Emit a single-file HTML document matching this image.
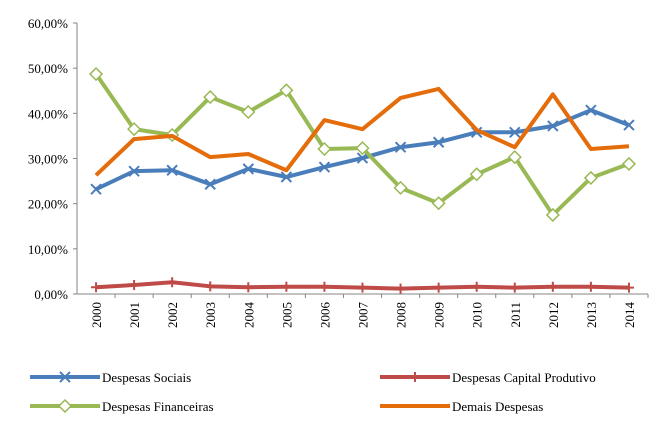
<!DOCTYPE html>
<html><head><meta charset="utf-8"><style>
body{margin:0;background:#fff}
svg text{font-family:"Liberation Serif",serif;font-size:13px;fill:#000}
</style></head><body>
<svg id="c" width="650" height="422"></svg>
<script>
const years=["2000","2001","2002","2003","2004","2005","2006","2007","2008","2009","2010","2011","2012","2013","2014"];
const sociais=[23.2,27.2,27.4,24.3,27.7,25.9,28.1,30.1,32.5,33.6,35.8,35.8,37.2,40.7,37.4];
const capital=[1.5,2.0,2.6,1.7,1.5,1.6,1.6,1.4,1.2,1.4,1.6,1.4,1.6,1.6,1.4];
const financeiras=[48.7,36.5,35.2,43.6,40.3,45.1,32.1,32.3,23.5,20.1,26.5,30.3,17.5,25.7,28.8];
const demais=[26.3,34.3,35.0,30.3,31.0,27.4,38.5,36.5,43.4,45.4,36.3,32.5,44.2,32.1,32.7];
const yTicks=[0,10,20,30,40,50,60];
const yTickLabels=["0,00%","10,00%","20,00%","30,00%","40,00%","50,00%","60,00%"];
const svg=document.getElementById('c');const NS="http://www.w3.org/2000/svg";
const x0=77,x1=648,yb=294,yt=23;
const step=(x1-x0)/years.length;
const X=i=>x0+step*(i+0.5);
const Y=v=>yb-(v/60)*(yb-yt);
function mk(t,a){const e=document.createElementNS(NS,t);for(const k in a)e.setAttribute(k,a[k]);svg.appendChild(e);return e;}
let e=mk('line',{x1:x0,y1:yt,x2:x0,y2:yb,stroke:'#868686'});


e=mk('line',{x1:x0,y1:yb,x2:x1,y2:yb,stroke:'#868686'});


yTicks.forEach((v,i)=>{mk('line',{x1:x0-4,y1:Y(v),x2:x0,y2:Y(v),stroke:'#868686'});
 const t=mk('text',{x:68,y:Y(v)+5,'text-anchor':'end'});t.textContent=yTickLabels[i];
 
 });
years.forEach((y,i)=>{mk('line',{x1:x0+step*(i+1),y1:yb,x2:x0+step*(i+1),y2:yb+4,stroke:'#868686'});
 const t=mk('text',{transform:`translate(${X(i)+5},${yb+8}) rotate(-90)`,'text-anchor':'end'});t.textContent=y;
 
 });
const series=[
 {d:sociais,c:'#4a7ebb',m:'x',n:'series-despesas-sociais'},
 {d:capital,c:'#be4b48',m:'+',n:'series-despesas-capital-produtivo'},
 {d:financeiras,c:'#98b954',m:'d',n:'series-despesas-financeiras'},
 {d:demais,c:'#e46c0a',m:'',n:'series-demais-despesas'}];
function marker(m,cx,cy,c,name){
 let g;
 if(m==='x')g=mk('path',{d:`M${cx-5},${cy-5}L${cx+5},${cy+5}M${cx-5},${cy+5}L${cx+5},${cy-5}`,stroke:c,'stroke-width':2});
 else if(m==='+')g=mk('path',{d:`M${cx-5},${cy}L${cx+5},${cy}M${cx},${cy-5}L${cx},${cy+5}`,stroke:c,'stroke-width':2});
 else if(m==='d')g=mk('path',{d:`M${cx},${cy-6}L${cx+6},${cy}L${cx},${cy+6}L${cx-6},${cy}Z`,stroke:c,'stroke-width':1.5,fill:'#fff'});
 if(g){
 }
}
series.forEach(s=>{
 const p=mk('polyline',{points:s.d.map((v,i)=>X(i)+','+Y(v)).join(' '),fill:'none',stroke:s.c,'stroke-width':4,'stroke-linejoin':'round'});
 
 
 s.d.forEach((v,i)=>marker(s.m,X(i),Y(v),s.c,'point'));
});
const legend=[["Despesas Sociais",30,377,0],["Despesas Capital Produtivo",380,377,1],["Despesas Financeiras",30,406,2],["Demais Despesas",380,406,3]];
legend.forEach(l=>{const s=series[l[3]];
 const ln=mk('line',{x1:l[1],y1:l[2],x2:l[1]+70,y2:l[2],stroke:s.c,'stroke-width':4});
 
 
 marker(s.m,l[1]+35,l[2],s.c,'legend-marker');
 const t=mk('text',{x:l[1]+72,y:l[2]+5});t.textContent=l[0];
 
 });
</script>
</body></html>
